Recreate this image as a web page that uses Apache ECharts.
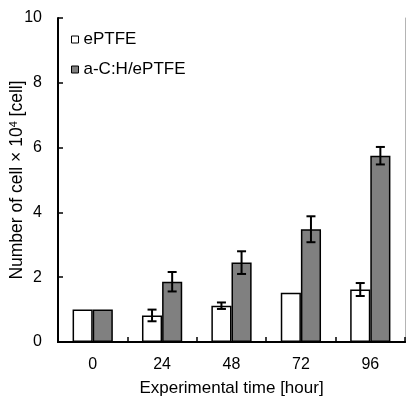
<!DOCTYPE html>
<html><head><meta charset="utf-8">
<script src="https://cdn.jsdelivr.net/npm/echarts@6/dist/echarts.min.js"></script>
<style>html,body{margin:0;padding:0;background:#fff}#c{width:406px;height:396px}</style>
</head><body><div id="c"></div>
<script>
var categories = ['0', '24', '48', '72', '96'];
var eptfe = [1.0, 0.82, 1.12, 1.52, 1.62];
var eptfeErr = [0, 0.18, 0.1, 0, 0.2];
var acth = [1.0, 1.86, 2.45, 3.48, 5.75];
var acthErr = [0, 0.3, 0.35, 0.4, 0.27];
var yTicks = [0, 2, 4, 6, 8, 10];

var BARW = 0.29;
var font = 'Liberation Sans, Arial, sans-serif';

function errSeries(vals, errs, side) {
  var data = vals.map(function (v, i) { return [i, v, errs[i]]; });
  return {
    type: 'custom', z: 5, silent: true,
    renderItem: function (params, api) {
      var i = api.value(0), v = api.value(1), e = api.value(2);
      if (!e) return null;
      var bw = api.size([1, 0])[0];
      var c = api.coord([i, v]);
      var x = c[0] + side * bw * BARW / 2;
      var top = api.coord([i, v + e])[1];
      var bot = api.coord([i, v - e])[1];
      var cap = 4.5;
      var st = { stroke: '#000', lineWidth: 2 };
      return { type: 'group', children: [
        { type: 'line', shape: { x1: x, y1: top, x2: x, y2: bot }, style: st },
        { type: 'line', shape: { x1: x - cap, y1: top, x2: x + cap, y2: top }, style: st },
        { type: 'line', shape: { x1: x - cap, y1: bot, x2: x + cap, y2: bot }, style: st }
      ]};
    },
    data: data
  };
}

var chart = echarts.init(document.getElementById('c'));
chart.setOption({
  animation: false,
  textStyle: { fontFamily: font },
  grid: { left: 58, right: 1, top: 18, bottom: 54, containLabel: false, outerBoundsMode: 'none' },
  legend: {
    orient: 'vertical', left: 66, top: 26, itemWidth: 7, itemHeight: 7, itemGap: 13,
    icon: 'rect',
    textStyle: { fontSize: 17, color: '#000', fontFamily: font },
    data: [
      { name: 'ePTFE', itemStyle: { color: '#fff', borderColor: '#000', borderWidth: 1 } },
      { name: 'a-C:H/ePTFE', itemStyle: { color: '#808080', borderColor: '#000', borderWidth: 1 } }
    ]
  },
  xAxis: [{
    type: 'category', data: categories,
    axisLine: { lineStyle: { color: '#000', width: 2 } },
    axisTick: { show: true, inside: true, length: 5, lineStyle: { color: '#000', width: 1.5 } },
    axisLabel: { fontSize: 16, color: '#000', margin: 15, fontFamily: font },
    name: 'Experimental time [hour]', nameLocation: 'middle', nameGap: 38,
    nameTextStyle: { fontSize: 17, color: '#000', fontFamily: font }
  }, {
    type: 'category', data: categories, position: 'top',
    axisLine: { lineStyle: { color: '#000', width: 2 } },
    axisTick: { show: false }, axisLabel: { show: false }
  }],
  yAxis: [{
    type: 'value', min: 0, max: 10, interval: 2,
    axisLine: { show: true, lineStyle: { color: '#000', width: 2 } },
    axisTick: { show: true, inside: true, length: 5, lineStyle: { color: '#000', width: 1.5 } },
    splitLine: { show: false },
    axisLabel: { fontSize: 16, color: '#000', margin: 16, fontFamily: font,
      formatter: function (v) { return yTicks.indexOf(v) >= 0 ? String(v) : ''; } },
    name: 'Number of cell \u00d7 10{sup|4} [cell]', nameLocation: 'middle', nameGap: 32,
    nameMoveOverlap: false,
    nameTextStyle: { fontSize: 17.5, color: '#000', fontFamily: font,
      rich: { sup: { fontSize: 11, verticalAlign: 'top', color: '#000', padding: [0, 0, 6, 0] } } }
  }, {
    type: 'value', min: 0, max: 10, interval: 2, position: 'right',
    axisLine: { show: true, lineStyle: { color: '#b4b4b4', width: 1 } },
    axisTick: { show: false }, axisLabel: { show: false }, splitLine: { show: false }
  }],
  series: [
    { name: 'ePTFE', type: 'bar', data: eptfe, barWidth: (BARW * 100) + '%', barGap: '0%',
      itemStyle: { color: '#fff', borderColor: '#000', borderWidth: 1.5 } },
    { name: 'a-C:H/ePTFE', type: 'bar', data: acth, barWidth: (BARW * 100) + '%', barGap: '0%',
      itemStyle: { color: '#808080', borderColor: '#000', borderWidth: 1.5 } },
    errSeries(eptfe, eptfeErr, -1),
    errSeries(acth, acthErr, 1)
  ]
});
</script></body></html>
